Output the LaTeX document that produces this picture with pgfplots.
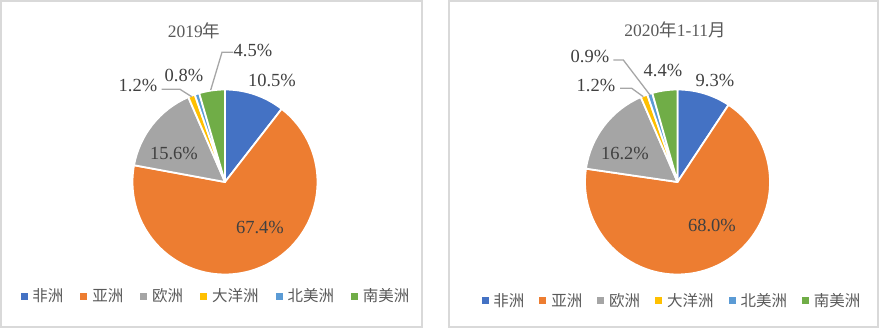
\documentclass[border=0pt]{standalone}
\usepackage{pgfplots}
\usepackage{pgfplotstable}
\pgfplotsset{compat=1.18}
\usepackage{fontspec}
\setmainfont{Liberation Serif}
\newfontfamily\cjk{Noto Sans CJK SC}

\definecolor{cA}{HTML}{4472C4}
\definecolor{cB}{HTML}{ED7D31}
\definecolor{cC}{HTML}{A5A5A5}
\definecolor{cD}{HTML}{FFC000}
\definecolor{cE}{HTML}{5B9BD5}
\definecolor{cF}{HTML}{70AD47}
\definecolor{lbl}{HTML}{404040}
\definecolor{ttl}{HTML}{595959}
\definecolor{panelframe}{HTML}{D9D9D9}
\definecolor{lead}{HTML}{A6A6A6}

\newcommand\lblfont{\fontsize{18.5bp}{21bp}\selectfont}
\newcommand\ttlfont{\fontsize{17.5bp}{20bp}\selectfont}
\newcommand\legfont{\cjk\fontsize{15.5bp}{18bp}\selectfont}

% value (%), colour, label position (px from left, px from bottom)
\pgfplotstableread{
value col lx ly
10.5 cA 272 249
67.4 cB 260 102
15.6 cC 174 176
1.2  cD 138 244
0.8  cE 184 254
4.5  cF 253 279
}\pieA

\pgfplotstableread{
value col lx ly
9.3  cA 715 249
68.0 cB 712 104
16.2 cC 625 176
1.2  cD 596 244
0.9  cE 590 273
4.4  cF 663 259
}\pieB

\newcommand\drawpie[4]{%
  \def\cum{0}%
  \pgfplotsforeachungrouped \i in {0,...,5} {%
    \pgfplotstablegetelem{\i}{value}\of{#1}\let\pval\pgfplotsretval
    \pgfplotstablegetelem{\i}{col}\of{#1}\let\pcol\pgfplotsretval
    \pgfmathsetmacro\sa{90-3.6*\cum}%
    \pgfmathsetmacro\cum{\cum+\pval}%
    \pgfmathsetmacro\ea{90-3.6*\cum}%
    \edef\temp{\noexpand\filldraw[fill=\pcol, draw=white, line width=1.8bp, line join=round]
      (axis cs:#2,#3) -- ++(\sa:#4) arc[start angle=\sa, end angle=\ea, radius=#4] -- cycle;}%
    \temp
  }%
  \pgfplotsforeachungrouped \i in {0,...,5} {%
    \pgfplotstablegetelem{\i}{value}\of{#1}\let\pval\pgfplotsretval
    \pgfplotstablegetelem{\i}{lx}\of{#1}\let\plx\pgfplotsretval
    \pgfplotstablegetelem{\i}{ly}\of{#1}\let\ply\pgfplotsretval
    \edef\temp{\noexpand\node[text=lbl, font=\noexpand\lblfont, inner sep=0pt] at (axis cs:\plx,\ply)
      {\noexpand\pgfmathprintnumber[fixed,fixed zerofill,precision=1,assume math mode=true]{\pval}\noexpand\%};}%
    \temp
  }%
}

\pgfplotsset{
  panel/.style={
    at={(0,0)}, anchor=south west, scale only axis,
    width=881bp, height=329bp, xmin=0, xmax=881, ymin=0, ymax=329,
    hide axis, clip=false,
    legend image code/.code={\fill[##1] (0bp,-3bp) rectangle (6bp,3bp);},
    legend style={draw=none, fill=none, legend columns=-1, anchor=center,
      font=\legfont, text=ttl, nodes={inner sep=0pt},
      /tikz/every odd column/.append style={column sep=5.5bp}},
  }
}

\begin{document}
\begin{tikzpicture}
\useasboundingbox (0,0) rectangle (881bp,329bp);
% left panel
\begin{axis}[panel,
  legend style={at={(0.2440,0.1003)}, /tikz/every even column/.append style={column sep=17bp}}]
  \draw[panelframe, line width=2bp] (axis cs:1,2) rectangle (axis cs:422,328);
  \drawpie{\pieA}{225}{147}{92.5bp}
  \draw[lead, line width=1.3bp] (axis cs:233,276.7) -- (axis cs:222,276.7) -- (axis cs:210.7,239);
  \draw[lead, line width=1.3bp] (axis cs:161.7,239.7) -- (axis cs:180,239.7) -- (axis cs:191.7,232.3);
  \node[text=ttl, font=\ttlfont, inner sep=0pt] at (axis cs:194,298) {2019{\cjk 年}};
  \addlegendimage{cA}\addlegendentry{非洲}
  \addlegendimage{cB}\addlegendentry{亚洲}
  \addlegendimage{cC}\addlegendentry{欧洲}
  \addlegendimage{cD}\addlegendentry{大洋洲}
  \addlegendimage{cE}\addlegendentry{北美洲}
  \addlegendimage{cF}\addlegendentry{南美洲}
\end{axis}
% right panel
\begin{axis}[panel,
  legend style={at={(0.7616,0.0866)}, /tikz/every even column/.append style={column sep=15bp}}]
  \draw[panelframe, line width=2bp] (axis cs:449,2) rectangle (axis cs:878,328);
  \drawpie{\pieB}{677.5}{147}{92.5bp}
  \draw[lead, line width=1.3bp] (axis cs:613.3,269) -- (axis cs:623.3,269) -- (axis cs:650,234);
  \draw[lead, line width=1.3bp] (axis cs:620,240.7) -- (axis cs:631.7,240.7) -- (axis cs:643.3,232.3);
  \node[text=ttl, font=\ttlfont, inner sep=0pt] at (axis cs:675,299) {2020{\cjk 年}1-11{\cjk 月}};
  \addlegendimage{cA}\addlegendentry{非洲}
  \addlegendimage{cB}\addlegendentry{亚洲}
  \addlegendimage{cC}\addlegendentry{欧洲}
  \addlegendimage{cD}\addlegendentry{大洋洲}
  \addlegendimage{cE}\addlegendentry{北美洲}
  \addlegendimage{cF}\addlegendentry{南美洲}
\end{axis}
\end{tikzpicture}
\end{document}
